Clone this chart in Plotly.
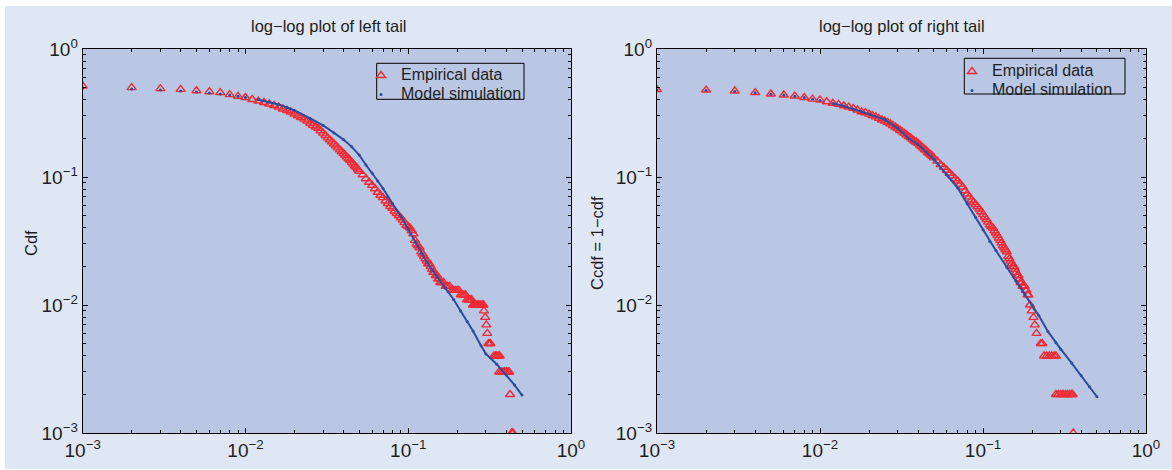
import plotly.graph_objects as go

W, H = 1172, 470

# ---------------- data ----------------
left_emp_x = [0.001, 0.002, 0.003, 0.004, 0.005, 0.006, 0.007, 0.008, 0.009, 0.010,
              0.011, 0.012, 0.013, 0.014, 0.015, 0.016, 0.017, 0.018, 0.019, 0.020,
              0.021, 0.022, 0.023, 0.024, 0.025, 0.026, 0.027, 0.028, 0.029, 0.030,
              0.031, 0.032, 0.033, 0.034, 0.035, 0.036, 0.037, 0.038, 0.039, 0.040,
              0.041, 0.042, 0.043, 0.044, 0.045, 0.046, 0.047, 0.048, 0.049, 0.050,
              0.0525, 0.055, 0.0575, 0.060, 0.0625, 0.065, 0.0675, 0.070, 0.0725, 0.075,
              0.0775, 0.080, 0.0825, 0.085, 0.0875, 0.090, 0.0925, 0.095, 0.0975, 0.100,
              0.1025, 0.105, 0.1075, 0.110, 0.1125, 0.115, 0.1175, 0.120, 0.1225, 0.125,
              0.1275, 0.130, 0.1325, 0.135, 0.1375, 0.140, 0.1425, 0.145, 0.1475, 0.150,
              0.1525, 0.155, 0.1575, 0.160,
              0.165, 0.170, 0.175, 0.180, 0.185, 0.190, 0.195, 0.200,
              0.205, 0.210, 0.215, 0.220, 0.225, 0.230, 0.235, 0.240, 0.245, 0.250,
              0.255, 0.260, 0.265, 0.270, 0.275, 0.280, 0.285, 0.290, 0.292, 0.297,
              0.302, 0.306, 0.311, 0.316, 0.320, 0.336, 0.343, 0.350, 0.358, 0.365,
              0.362, 0.372, 0.382, 0.392, 0.402, 0.412, 0.417, 0.422, 0.432, 0.436, 0.440]
left_emp_y = [0.514, 0.499, 0.490, 0.484, 0.472, 0.464, 0.456, 0.440, 0.427, 0.418,
              0.403, 0.392, 0.382, 0.372, 0.362, 0.352, 0.340, 0.331, 0.322, 0.311,
              0.301, 0.292, 0.283, 0.274, 0.263, 0.253, 0.246, 0.240, 0.230, 0.220,
              0.211, 0.202, 0.195, 0.188, 0.181, 0.175, 0.169, 0.163, 0.158, 0.153,
              0.148, 0.143, 0.139, 0.135, 0.130, 0.126, 0.122, 0.119, 0.115, 0.111,
              0.104, 0.097, 0.091, 0.086, 0.081, 0.076, 0.072, 0.069, 0.065, 0.062,
              0.059, 0.057, 0.054, 0.052, 0.050, 0.048, 0.046, 0.044, 0.042, 0.041,
              0.040, 0.038, 0.036, 0.032, 0.030, 0.029, 0.028, 0.026, 0.025, 0.024,
              0.023, 0.022, 0.021, 0.021, 0.020, 0.019, 0.018, 0.018, 0.017, 0.017,
              0.016, 0.016, 0.015, 0.015,
              0.015, 0.014, 0.014, 0.014, 0.013, 0.013, 0.013, 0.013,
              0.013, 0.012, 0.012, 0.012, 0.012, 0.011, 0.011, 0.011, 0.011, 0.010,
              0.010, 0.010, 0.010, 0.010, 0.010, 0.010, 0.010, 0.010, 0.009, 0.008,
              0.007, 0.006, 0.005, 0.005, 0.005, 0.004, 0.004, 0.004, 0.004, 0.004,
              0.003, 0.003, 0.003, 0.003, 0.003, 0.003, 0.003, 0.002, 0.001, 0.001, 0.001]

left_mod_x = [0.001, 0.002, 0.003, 0.004, 0.005, 0.006, 0.007, 0.008, 0.009, 0.010,
              0.012, 0.014, 0.016, 0.018, 0.020, 0.025, 0.030, 0.035, 0.040, 0.045,
              0.050, 0.055, 0.060, 0.065, 0.070, 0.075, 0.080, 0.090, 0.100, 0.110,
              0.120, 0.130, 0.140, 0.150, 0.170, 0.190, 0.210, 0.230, 0.250, 0.280,
              0.300, 0.350, 0.400, 0.450, 0.500]
left_mod_y = [0.496, 0.487, 0.478, 0.470, 0.461, 0.453, 0.445, 0.437, 0.427, 0.418,
              0.401, 0.385, 0.369, 0.349, 0.331, 0.287, 0.253, 0.221, 0.196, 0.172,
              0.1485, 0.124, 0.1075, 0.0931, 0.0813, 0.0698, 0.0621, 0.0496, 0.0392, 0.0311,
              0.0255, 0.0217, 0.0188, 0.0166, 0.01346, 0.01104, 0.00898, 0.00743, 0.00626, 0.00480,
              0.00415, 0.00345, 0.00284, 0.00237, 0.00198]

right_emp_x = [0.001, 0.002, 0.003, 0.004, 0.005, 0.006, 0.007, 0.008, 0.009, 0.010,
               0.011, 0.012, 0.013, 0.014, 0.015, 0.016, 0.017, 0.018, 0.019, 0.020,
               0.021, 0.022, 0.023, 0.024, 0.025, 0.026, 0.027, 0.028, 0.029, 0.030,
               0.031, 0.032, 0.033, 0.034, 0.035, 0.036, 0.037, 0.038, 0.039, 0.040,
               0.041, 0.042, 0.043, 0.044, 0.045, 0.046, 0.047, 0.048, 0.049, 0.050,
               0.0525, 0.055, 0.0575, 0.060, 0.0625, 0.065, 0.0675, 0.070, 0.0725, 0.075,
               0.0775, 0.080, 0.0825, 0.085, 0.0875, 0.090, 0.0925, 0.095, 0.0975, 0.100,
               0.1025, 0.105, 0.1075, 0.110, 0.1125, 0.115, 0.1175, 0.120, 0.1225, 0.125,
               0.1275, 0.130, 0.1325, 0.135, 0.1375, 0.140, 0.1425, 0.145, 0.1475, 0.150,
               0.1525, 0.155, 0.1575, 0.160, 0.1625, 0.165, 0.1675, 0.170, 0.1725, 0.175,
               0.1775, 0.180, 0.1825, 0.185, 0.1875, 0.190,
               0.194, 0.199, 0.204, 0.208, 0.213, 0.226, 0.231, 0.237, 0.246, 0.255,
               0.264, 0.273, 0.280, 0.280, 0.290, 0.300, 0.310, 0.320, 0.330, 0.340,
               0.350, 0.355, 0.358]
right_emp_y = [0.482, 0.478, 0.470, 0.457, 0.445, 0.437, 0.429, 0.418, 0.406, 0.400,
               0.387, 0.377, 0.369, 0.360, 0.352, 0.344, 0.334, 0.323, 0.318, 0.310,
               0.302, 0.295, 0.287, 0.279, 0.273, 0.267, 0.260, 0.2525, 0.246, 0.239,
               0.232, 0.225, 0.219, 0.213, 0.207, 0.202, 0.196, 0.191, 0.187, 0.183,
               0.178, 0.173, 0.168, 0.164, 0.160, 0.155, 0.152, 0.1485, 0.145, 0.141,
               0.133, 0.125, 0.119, 0.113, 0.107, 0.102, 0.097, 0.093, 0.088, 0.0835,
               0.078, 0.0736, 0.070, 0.0661, 0.0635, 0.0610, 0.0585, 0.0562, 0.0535, 0.0509,
               0.0487, 0.0466, 0.0444, 0.0422, 0.041, 0.0400, 0.038, 0.0365, 0.035, 0.0334,
               0.032, 0.0305, 0.029, 0.028, 0.027, 0.026, 0.024, 0.023, 0.022, 0.021,
               0.020, 0.020, 0.019, 0.018, 0.017, 0.017, 0.016, 0.015, 0.015, 0.014,
               0.014, 0.014, 0.013, 0.013, 0.012, 0.012,
               0.010, 0.009, 0.008, 0.007, 0.006, 0.005, 0.005, 0.004, 0.004, 0.004,
               0.004, 0.004, 0.004, 0.002, 0.002, 0.002, 0.002, 0.002, 0.002, 0.002,
               0.002, 0.002, 0.001]

right_mod_x = [0.001, 0.002, 0.003, 0.004, 0.005, 0.006, 0.007, 0.008, 0.009, 0.010,
               0.012, 0.014, 0.016, 0.018, 0.020, 0.025, 0.030, 0.035, 0.040, 0.045,
               0.050, 0.060, 0.070, 0.080, 0.090, 0.100, 0.110, 0.120, 0.140, 0.160,
               0.180, 0.200, 0.220, 0.250, 0.280, 0.300, 0.350, 0.400, 0.450, 0.500]
right_mod_y = [0.480, 0.474, 0.466, 0.455, 0.444, 0.435, 0.427, 0.417, 0.405, 0.396,
               0.376, 0.359, 0.339, 0.324, 0.310, 0.280, 0.240, 0.200, 0.1795, 0.156,
               0.1376, 0.1038, 0.082, 0.0618, 0.0484, 0.0387, 0.0314, 0.0267, 0.0197, 0.01535,
               0.01225, 0.0100, 0.00828, 0.00622, 0.00506, 0.00452, 0.00352, 0.00281, 0.00230, 0.00192]

tick_vals = [0.001, 0.01, 0.1, 1]
tick_text = ["10<sup>\u22123</sup>", "10<sup>\u22122</sup>", "10<sup>\u22121</sup>", "10<sup>0</sup>"]
titles = ["log\u2212log plot of left tail", "log\u2212log plot of right tail"]
ytitles = ["Cdf", "Ccdf = 1\u2212cdf"]
legend_names = ["Empirical data", "Model simulation"]

# ---------------- style ----------------
RED = "#ef2b36"
BLUE = "#2c4c9e"
PANEL = "#e0e7f4"
PLOTBG = "#b9c7e4"
FONT = "Liberation Sans, Arial, sans-serif"
TXT = "#1e1e1e"

minor_vals = [k * d for d in (0.001, 0.01, 0.1) for k in range(2, 10)]


def px_x(p):
    return p / W


def px_y(p):
    return 1 - p / H


def legend_label(s):
    return '<span style="font-size:16px">' + s + "</span>"


fig = go.Figure()

datasets = [
    (left_emp_x, left_emp_y, left_mod_x, left_mod_y, "x", "y", "legend"),
    (right_emp_x, right_emp_y, right_mod_x, right_mod_y, "x2", "y2", "legend2"),
]
for ex, ey, mx, my, xa, ya, lg in datasets:
    fig.add_trace(go.Scatter(
        x=ex, y=ey, mode="markers", name=legend_label(legend_names[0]),
        xaxis=xa, yaxis=ya, legend=lg,
        marker=dict(symbol="triangle-up-open", size=8, color=RED,
                    line=dict(width=1.4, color=RED)),
    ))
    dense = [i for i, v in enumerate(mx) if v >= 0.012]
    fig.add_trace(go.Scatter(
        x=[mx[i] for i in dense], y=[my[i] for i in dense], mode="lines", showlegend=False,
        xaxis=xa, yaxis=ya, line=dict(color=BLUE, width=2), hoverinfo="skip",
    ))
    fig.add_trace(go.Scatter(
        x=mx, y=my, mode="markers", name=legend_label(legend_names[1]),
        xaxis=xa, yaxis=ya, legend=lg,
        marker=dict(symbol="circle", size=3, color=BLUE),
    ))

x_domains = [[82.7 / W, 571 / W], [657 / W, 1146 / W]]
y_domain = [1 - 433 / H, 1 - 49 / H]

common = dict(
    type="log", range=[-3, 0], tickmode="array", tickvals=tick_vals, ticktext=tick_text,
    ticks="inside", ticklen=5, tickwidth=1, tickcolor="black",
    showline=True, linecolor="black", linewidth=1.2, mirror="ticks",
    showgrid=False, zeroline=False, automargin=False,
    tickfont=dict(family=FONT, size=19, color=TXT),
    minor=dict(tickmode="array", tickvals=minor_vals, ticks="inside", ticklen=3,
               tickcolor="black", tickwidth=1, showgrid=False),
)

legend_common = dict(xanchor="left", yanchor="top", bgcolor="rgba(0,0,0,0)", borderwidth=0,
                     font=dict(family=FONT, size=11.5, color=TXT), tracegroupgap=0)

fig.update_layout(
    width=W, height=H,
    margin=dict(l=0, r=0, t=0, b=0, pad=0),
    paper_bgcolor=PANEL, plot_bgcolor=PLOTBG,
    font=dict(family=FONT, size=16, color=TXT),
    xaxis=dict(domain=x_domains[0], anchor="y", **common),
    yaxis=dict(domain=y_domain, anchor="x", **common),
    xaxis2=dict(domain=x_domains[1], anchor="y2", **common),
    yaxis2=dict(domain=y_domain, anchor="x2", **common),
    legend=dict(x=px_x(361), y=px_y(61), **legend_common),
    legend2=dict(x=px_x(952), y=px_y(57), **legend_common),
    showlegend=True,
)

# legend frames
for (x0, y0, x1, y1) in [(376.7, 63.3, 524, 99.3), (964.3, 58.3, 1125, 94)]:
    fig.add_shape(type="rect", xref="paper", yref="paper",
                  x0=px_x(x0), x1=px_x(x1), y0=px_y(y1), y1=px_y(y0),
                  line=dict(color="black", width=1), fillcolor="rgba(0,0,0,0)", layer="above")

# white outer border
for (x0, y0, x1, y1) in [(0, 0, 5, H), (0, 0, W, 6), (0, H - 1, W, H)]:
    fig.add_shape(type="rect", xref="paper", yref="paper",
                  x0=px_x(x0), x1=px_x(x1), y0=px_y(y1), y1=px_y(y0),
                  line=dict(width=0), fillcolor="white", layer="above")

# titles and axis titles
for cx, t in zip([328, 901.5], titles):
    fig.add_annotation(x=px_x(cx), y=px_y(26), xref="paper", yref="paper", text=t,
                       showarrow=False, xanchor="center", yanchor="middle",
                       font=dict(family=FONT, size=16.5, color=TXT))
for cx, t in zip([31, 597], ytitles):
    fig.add_annotation(x=px_x(cx), y=px_y(243), xref="paper", yref="paper", text=t,
                       showarrow=False, xanchor="center", yanchor="middle", textangle=-90,
                       font=dict(family=FONT, size=16.5, color=TXT))

fig.write_html("out.html")
